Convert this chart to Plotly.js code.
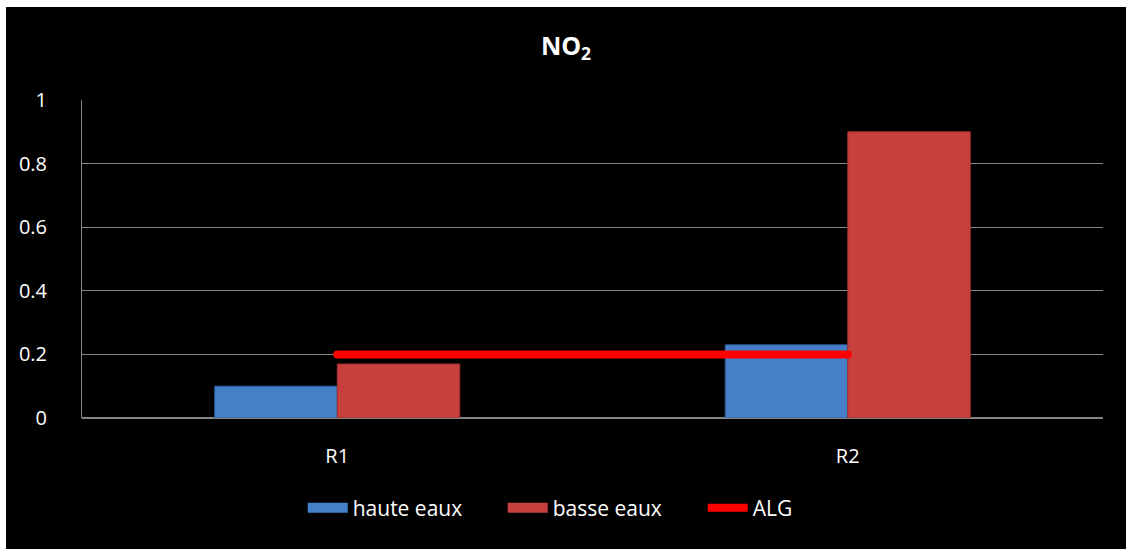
<!DOCTYPE html>
<html>
<head>
<meta charset="utf-8">
<script src="https://cdn.plot.ly/plotly-3.0.1.min.js"></script>
<style>
  html, body { margin: 0; padding: 0; background: #ffffff; width: 1126px; height: 549px; overflow: hidden; }
  #chart { position: absolute; left: 6px; top: 7px; width: 1120px; height: 542px; }
  #chart .scatterlayer path.js-line { stroke-linecap: round; }
</style>
</head>
<body>
<div id="chart"></div>
<script>
const categories = ['R1', 'R2'];
const hauteEaux = [0.1, 0.23];
const basseEaux = [0.17, 0.9];
const algValues = [0.2, 0.2];
const yTicks = [0, 0.2, 0.4, 0.6, 0.8, 1];
const yTickLabels = ['0', '0.2', '0.4', '0.6', '0.8', '1'];

const font = 'Open Sans, Noto Sans, Arial, sans-serif';
const blue = '#4680C8';
const red = '#C7403D';

const traces = [
  {
    type: 'bar', name: 'haute eaux', x: categories, y: hauteEaux, showlegend: false,
    marker: { color: blue, line: { color: '#2F5F9E', width: 1 } }
  },
  {
    type: 'bar', name: 'basse eaux', x: categories, y: basseEaux, showlegend: false,
    marker: { color: red, line: { color: '#9A2E2C', width: 1 } }
  },
  {
    type: 'scatter', mode: 'lines', name: 'ALG', x: categories, y: algValues,
    line: { color: '#FF0000', width: 8 }, legendrank: 3
  },
  // legend-only swatches (no data drawn)
  {
    type: 'scatter', mode: 'lines', name: 'haute eaux', x: [null], y: [null],
    line: { color: blue, width: 12 }, legendrank: 1
  },
  {
    type: 'scatter', mode: 'lines', name: 'basse eaux', x: [null], y: [null],
    line: { color: red, width: 12 }, legendrank: 2
  }
];

const layout = {
  paper_bgcolor: '#000000',
  plot_bgcolor: '#000000',
  margin: { l: 76, r: 23, t: 93, b: 131 },
  title: {
    text: '<b>NO<sub>2</sub></b>',
    font: { family: font, size: 25, color: '#ffffff' },
    x: 0.5, xanchor: 'center', xref: 'container',
    y: 1, yref: 'container', yanchor: 'top', pad: { t: 30 }
  },
  barmode: 'group',
  bargap: 0.52,
  bargroupgap: 0,
  showlegend: true,
  legend: {
    orientation: 'h', x: 0.51, xanchor: 'center', y: -0.283, yanchor: 'middle',
    font: { family: font, size: 21, color: '#ffffff' },
    bgcolor: 'rgba(0,0,0,0)', traceorder: 'normal', itemwidth: 40,
    entrywidth: 145
  },
  xaxis: {
    type: 'category',
    showgrid: false, showline: false, zeroline: false,
    ticks: '', ticklabelstandoff: 24,
    tickfont: { family: font, size: 20, color: '#ffffff' }
  },
  yaxis: {
    range: [0, 1],
    tickvals: yTicks, ticktext: yTickLabels,
    showgrid: true, gridcolor: '#868686', gridwidth: 1,
    zeroline: true, zerolinecolor: '#868686', zerolinewidth: 2,
    showline: true, linecolor: '#868686', linewidth: 1,
    ticks: '', ticklabelstandoff: 30,
    tickfont: { family: font, size: 20, color: '#ffffff' }
  }
};

Plotly.newPlot('chart', traces, layout, { displayModeBar: false, staticPlot: true });
</script>
</body>
</html>
